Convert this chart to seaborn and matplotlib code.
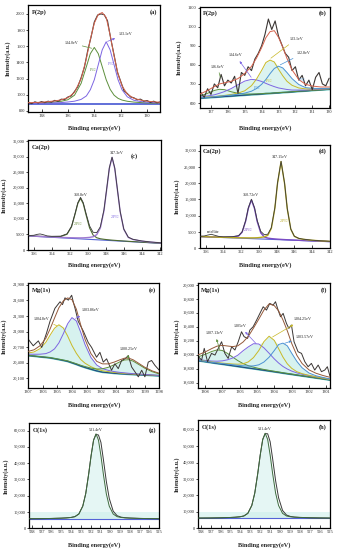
import matplotlib
matplotlib.use("Agg")          # headless
import matplotlib.pyplot as plt
from matplotlib.ticker import FuncFormatter
import numpy as np
import seaborn as sns

# ── (a) P(2p) ─────────────────────────────────────────────────────────────
A_X = [139, 138, 137, 136.5, 136, 135.5, 135, 134.6, 134.3, 134.0, 133.7, 133.4,
       133.1, 132.8, 132.5, 132.2, 131.9, 131.5, 131, 130.5, 130, 129]
A_BASE_X = [139, 129]
A_BASE_Y = [885, 885]
A_GREEN = [894, 898, 909, 919, 938, 994, 1140, 1347, 1508, 1585, 1508, 1347,
           1186, 1067, 994, 955, 934, 919, 909, 903, 898, 894]
A_PURPLE = [892, 894, 899, 903, 910, 920, 942, 985, 1062, 1185, 1370, 1555,
            1655, 1555, 1370, 1185, 1062, 974, 931, 916, 907, 897]
A_FIT = [901, 907, 923, 937, 963, 1029, 1197, 1447, 1685, 1885, 1993, 2017,
         1956, 1737, 1479, 1255, 1111, 1008, 955, 934, 920, 906]
A_RAW_X = [139.0, 138.75, 138.5, 138.25, 138.0, 137.75, 137.5, 137.25, 137.0,
           136.75, 136.5, 136.25, 136.0, 135.75, 135.5, 135.25, 135.0, 134.75,
           134.5, 134.25, 134.0, 133.75, 133.5, 133.25, 133.0, 132.75, 132.5,
           132.25, 132.0, 131.75, 131.5, 131.25, 131.0, 130.75, 130.5, 130.25,
           130.0, 129.75, 129.5, 129.25, 129.0]
A_RAW_Y = [905, 890, 912, 898, 915, 902, 920, 908, 930, 918, 945, 940, 972, 985,
           1040, 1100, 1210, 1340, 1545, 1710, 1900, 1985, 2000, 1990, 1915, 1690,
           1490, 1280, 1165, 1050, 1015, 972, 962, 938, 945, 920, 928, 905, 920,
           900, 912]
A_XTICKS = [138, 136, 134, 132, 130]
A_YTICKS = [800, 1000, 1200, 1400, 1600, 1800, 2000]

# ── (b) P(2p) ─────────────────────────────────────────────────────────────
B_X = [137.65, 137.2, 136.8, 136.5, 136.2, 135.8, 135.4, 135.0, 134.6, 134.3,
       134.0, 133.75, 133.5, 133.25, 133.0, 132.75, 132.5, 132.2, 131.8, 131.4,
       131.0, 130.5, 129.95]
B_BASE = [625, 628, 630, 632, 634, 636, 639, 641, 644, 645, 647, 649, 650, 652,
          653, 655, 656, 658, 661, 663, 666, 669, 672]
B_GREEN = [636, 651, 666, 672, 670, 659, 651, 647, 647, 648, 649, 651, 651, 653,
           654, 656, 657, 659, 662, 664, 666, 669, 672]
B_PURPLE = [631, 637, 643, 651, 660, 676, 696, 715, 724, 721, 713, 703, 694, 686,
            679, 675, 671, 668, 668, 668, 670, 672, 675]
B_YELLOW = [628, 632, 634, 637, 640, 645, 652, 664, 691, 726, 771, 812, 825, 815,
            777, 743, 714, 693, 679, 674, 674, 674, 676]
B_BLUE = [627, 630, 633, 636, 638, 642, 646, 652, 662, 676, 698, 723, 754, 781,
          793, 784, 760, 728, 697, 681, 677, 676, 677]
B_FIT = [647, 666, 686, 700, 706, 714, 728, 755, 792, 836, 890, 942, 974, 979,
         944, 893, 834, 774, 723, 698, 689, 684, 684]
B_RAW_X = [137.6, 137.4, 137.2, 137.0, 136.8, 136.6, 136.4, 136.2, 136.0, 135.8,
           135.6, 135.4, 135.2, 135.0, 134.8, 134.6, 134.4, 134.2, 134.0, 133.8,
           133.6, 133.4, 133.2, 133.0, 132.8, 132.6, 132.4, 132.2, 132.0, 131.8,
           131.6, 131.4, 131.2, 131.0, 130.8, 130.6, 130.4, 130.2, 130.0]
B_RAW_Y = [655, 630, 675, 645, 700, 680, 750, 690, 720, 705, 740, 650, 760, 745,
           790, 770, 830, 860, 900, 960, 1040, 985, 1030, 950, 905, 860, 840, 770,
           790, 720, 745, 690, 720, 670, 735, 760, 700, 690, 730]
B_XTICKS = [137, 136, 135, 134, 133, 132, 131, 130]
B_YTICKS = [600, 700, 800, 900, 1000, 1100]

# ── (c) Ca(2p) ────────────────────────────────────────────────────────────
C_X = [356.6, 356.0, 355.6, 355.3, 355.0, 354.5, 354.0, 353.0, 352.3, 351.8,
       351.4, 351.1, 350.8, 350.5, 350.2, 349.8, 349.4, 349.0, 348.6, 348.2,
       347.9, 347.6, 347.3, 347.0, 346.7, 346.4, 346.0, 345.5, 345.0, 344.0,
       343.0, 341.9]
C_BASE = [4500, 4403, 4339, 4291, 4243, 4162, 4082, 3922, 3809, 3729, 3665, 3617,
          3569, 3520, 3472, 3408, 3344, 3280, 3215, 3151, 3103, 3055, 3007, 2959,
          2910, 2862, 2798, 2718, 2638, 2478, 2317, 2140]
C_GREEN = [4559, 4475, 4424, 4389, 4353, 4305, 4271, 4312, 5044, 7434, 11595,
           14927, 16569, 14830, 11402, 7113, 4774, 3930, 3605, 3437, 3337, 3244,
           3163, 3096, 3027, 2966, 2883, 2790, 2697, 2524, 2351, 2166]
C_PURPLE = [4548, 4456, 4400, 4355, 4312, 4242, 4175, 4047, 3969, 3929, 3905,
            3897, 3889, 3906, 3952, 4048, 4250, 4930, 7075, 12581, 19363, 26245,
            29657, 26149, 19170, 12292, 6658, 4048, 3384, 2851, 2530, 2279]
C_FIT = [4639, 4724, 5024, 5153, 4961, 4525, 4396, 4447, 5204, 7634, 11835, 15207,
         16889, 15216, 11882, 7753, 5680, 5580, 7465, 12867, 19597, 26434, 29813,
         26286, 19287, 12396, 6743, 4120, 3443, 2897, 2564, 2305]
C_XTICKS = [356, 354, 352, 350, 348, 346, 344, 342]
C_YTICKS = [0, 5000, 10000, 15000, 20000, 25000, 30000, 35000]

# ── (d) Ca(2p) ────────────────────────────────────────────────────────────
D_X = [356.7, 356.2, 355.8, 355.4, 355.0, 354.5, 354.0, 353.0, 352.3, 351.9,
       351.5, 351.2, 350.85, 350.5, 350.2, 349.8, 349.4, 349.0, 348.6, 348.2,
       347.9, 347.5, 347.1, 346.8, 346.4, 346.0, 345.5, 345.0, 344.0, 343.0, 342.0]
D_BASE = [3591, 3538, 3496, 3454, 3412, 3360, 3308, 3203, 3129, 3088, 3046, 3014,
          2977, 2941, 2909, 2867, 2826, 2784, 2742, 2700, 2668, 2626, 2584, 2553,
          2511, 2469, 2417, 2364, 2260, 2155, 2050]
D_PURPLE = [3627, 3583, 3548, 3513, 3483, 3453, 3433, 3476, 3782, 4965, 8392,
            12280, 14857, 12207, 8255, 4744, 3479, 3140, 2980, 2878, 2814, 2738,
            2673, 2630, 2575, 2522, 2462, 2400, 2287, 2175, 2067]
D_OLIVE = [3622, 3572, 3534, 3495, 3458, 3413, 3370, 3289, 3242, 3220, 3207, 3201,
           3205, 3217, 3245, 3347, 3522, 3984, 6103, 12304, 19958, 26636, 19874,
           12157, 5872, 3669, 3017, 2772, 2471, 2282, 2136]
D_FIT = [3692, 3775, 4059, 4304, 4002, 3619, 3523, 3571, 3895, 5097, 8553, 12467,
         15085, 12483, 8591, 5224, 4175, 4340, 6341, 12482, 20104, 26748, 19963,
         12234, 5936, 3722, 3062, 2808, 2498, 2302, 2153]
D_XTICKS = [356, 354, 352, 350, 348, 346, 344, 342]
D_YTICKS = [0, 5000, 10000, 15000, 20000, 25000, 30000]

# ── (e) Mg(1s) ────────────────────────────────────────────────────────────
E_X = [1307, 1306.6, 1306.2, 1305.8, 1305.5, 1305.2, 1304.9, 1304.6, 1304.3,
       1304.0, 1303.7, 1303.4, 1303.1, 1302.7, 1302.3, 1301.9, 1301.5, 1301.1,
       1300.7, 1300.4, 1300.1, 1299.8, 1299.4, 1299.0, 1298.5, 1298.0]
E_BASE = [20539, 20528, 20515, 20504, 20495, 20479, 20463, 20446, 20428, 20399,
          20370, 20338, 20310, 20276, 20244, 20220, 20210, 20198, 20190, 20185,
          20180, 20175, 20170, 20165, 20157, 20150]
E_YELLOW = [20589, 20610, 20672, 20792, 20934, 21065, 21132, 21072, 20917, 20734,
            20584, 20465, 20392, 20326, 20278, 20247, 20231, 20215, 20203, 20197,
            20191, 20184, 20178, 20172, 20163, 20155]
E_PURPLE = [20567, 20565, 20566, 20577, 20609, 20668, 20783, 20956, 21150, 21270,
            21206, 20989, 20750, 20505, 20358, 20287, 20255, 20232, 20216, 20208,
            20199, 20192, 20184, 20176, 20167, 20158]
E_GREEN = [20543, 20532, 20520, 20509, 20501, 20485, 20470, 20454, 20438, 20410,
           20383, 20353, 20328, 20300, 20280, 20286, 20314, 20363, 20420, 20454,
           20460, 20433, 20366, 20297, 20230, 20186]
E_FIT = [20621, 20651, 20728, 20870, 21054, 21260, 21459, 21590, 21649, 21616,
         21433, 21131, 20850, 20579, 20428, 20380, 20380, 20414, 20459, 20489,
         20490, 20459, 20388, 20315, 20246, 20199]
E_RAW_X = [1307.0, 1306.66, 1306.31, 1306.08, 1305.74, 1305.51, 1305.17, 1304.82,
           1304.65, 1304.48, 1304.25, 1304.02, 1303.9, 1303.79, 1303.57, 1303.22,
           1302.88, 1302.65, 1302.31, 1302.08, 1301.85, 1301.62, 1301.28, 1301.05,
           1300.82, 1300.59, 1300.36, 1300.13, 1299.9, 1299.67, 1299.44, 1299.21,
           1298.99, 1298.76, 1298.53, 1298.3, 1298.0]
E_RAW_Y = [20853, 20728, 20822, 20696, 20979, 21198, 21449, 21575, 21520, 21650,
           21606, 21700, 21560, 21449, 21198, 21010, 20790, 20696, 20508, 20602,
           20414, 20477, 20257, 20382, 20288, 20445, 20477, 20539, 20320, 20226,
           20131, 20257, 20131, 20414, 20445, 20351, 20257]
E_XTICKS = [1307, 1306, 1305, 1304, 1303, 1302, 1301, 1300, 1299, 1298]
E_YTICKS = [20100, 20400, 20700, 21000, 21300, 21600, 21900]

# ── (f) Mg(1s) ────────────────────────────────────────────────────────────
F_X = [1308.4, 1308.0, 1307.6, 1307.3, 1307.0, 1306.7, 1306.4, 1306.1, 1305.8,
       1305.5, 1305.2, 1304.9, 1304.6, 1304.3, 1304.0, 1303.75, 1303.5, 1303.25,
       1303.0, 1302.7, 1302.4, 1302.0, 1301.6, 1301.2, 1300.77]
F_BASE = [18916, 18901, 18886, 18875, 18865, 18854, 18843, 18832, 18821, 18810,
          18800, 18789, 18778, 18767, 18756, 18747, 18737, 18728, 18719, 18708,
          18697, 18683, 18668, 18654, 18638]
F_GREEN = [18970, 19005, 19048, 19070, 19062, 19020, 18967, 18916, 18874, 18844,
           18823, 18805, 18790, 18777, 18764, 18754, 18743, 18733, 18724, 18712,
           18701, 18686, 18671, 18656, 18640]
F_PURPLE = [18932, 18920, 18910, 18908, 18913, 18928, 18954, 18995, 19058, 19113,
            19159, 19155, 19100, 19022, 18941, 18882, 18833, 18796, 18767, 18741,
            18721, 18702, 18684, 18667, 18649]
F_YELLOW = [18923, 18910, 18897, 18888, 18881, 18874, 18868, 18865, 18871, 18898,
            18960, 19059, 19188, 19266, 19206, 19087, 18967, 18871, 18807, 18758,
            18730, 18706, 18685, 18667, 18648]
F_BLUE = [18921, 18907, 18893, 18883, 18874, 18866, 18857, 18849, 18843, 18838,
          18841, 18856, 18896, 18965, 19061, 19147, 19167, 19128, 19024, 18906,
          18815, 18739, 18700, 18676, 18653]
F_FIT = [18998, 19039, 19090, 19124, 19135, 19126, 19117, 19129, 19183, 19263,
         19383, 19508, 19640, 19729, 19704, 19629, 19499, 19344, 19165, 18993,
         18876, 18784, 18736, 18704, 18676]
F_RAW_X = [1308.38, 1308.19, 1308.04, 1307.85, 1307.62, 1307.42, 1307.23, 1307.04,
           1306.85, 1306.66, 1306.46, 1306.27, 1306.08, 1305.89, 1305.74, 1305.54,
           1305.41, 1305.22, 1305.02, 1304.83, 1304.64, 1304.45, 1304.26, 1304.07,
           1303.93, 1303.78, 1303.64, 1303.49, 1303.30, 1303.16, 1303.01, 1302.86,
           1302.63, 1302.43, 1302.24, 1302.05, 1301.86, 1301.67, 1301.47, 1301.28,
           1301.09, 1300.94, 1300.78]
F_RAW_Y = [18972, 18925, 19092, 18901, 19020, 18996, 19092, 19187, 19020, 18948,
           19115, 19068, 19187, 19330, 19259, 19235, 19354, 19402, 19497, 19593,
           19688, 19640, 19736, 19712, 19760, 19640, 19545, 19593, 19450, 19378,
           19426, 19187, 19044, 19020, 18901, 18829, 18877, 18781, 18853, 18758,
           18781, 18829, 18686]
F_XTICKS = [1308, 1307, 1306, 1305, 1304, 1303, 1302, 1301]
F_YTICKS = [18600, 18800, 19000, 19200, 19400, 19600, 19800, 20000]

# ── (g) O(1s) ─────────────────────────────────────────────────────────────
G_X = [538.25, 537, 536, 535, 534.5, 534, 533.6, 533.2, 532.8, 532.5, 532.2,
       531.95, 531.7, 531.45, 531.2, 530.95, 530.7, 530.4, 530.1, 529.7, 529.3,
       528.9, 528.5, 528, 527, 526, 525]
G_BASE_X = [538.25, 525]
G_BASE_Y = [5740, 5740]
G_FIT = [5876, 5939, 6043, 6221, 6378, 6655, 7151, 8771, 13579, 21209, 33229,
         44621, 54185, 58000, 54185, 44621, 33229, 21209, 13579, 8771, 7151, 6655,
         6419, 6252, 6054, 5949, 5886]
G_RAW = [5880, 5930, 6050, 6230, 6390, 6670, 7180, 8800, 13650, 21300, 33300,
         44700, 54100, 57700, 57300, 52770, 42320, 28840, 18340, 10550, 7730, 6860,
         6500, 6315, 6080, 5960, 5890]
G_XTICKS = [538, 537, 536, 535, 534, 533, 532, 531, 530, 529, 528, 527, 526, 525]
G_YTICKS = [0, 10000, 20000, 30000, 40000, 50000, 60000]

# ── (h) O(1s) ─────────────────────────────────────────────────────────────
H_X = [538.27, 537.05, 536.05, 535.05, 534.55, 534.05, 533.65, 533.25, 532.85,
       532.55, 532.25, 532.0, 531.75, 531.5, 531.25, 531.0, 530.75, 530.45, 530.15,
       529.75, 529.35, 528.95, 528.55, 528.05, 527.05, 526.05, 525.0]
H_BASE_X = [538.27, 525]
H_BASE_Y = [6100, 6100]
H_FIT = [6235, 6297, 6401, 6577, 6732, 7007, 7499, 9106, 13875, 21442, 33363,
         44662, 54146, 57930, 54146, 44662, 33363, 21442, 13875, 9106, 7499, 7007,
         6774, 6608, 6411, 6307, 6245]
H_RAW = [6240, 6290, 6410, 6590, 6740, 7020, 7520, 9130, 13950, 21500, 33400,
         44700, 54050, 57700, 57600, 52750, 42380, 29010, 18590, 10870, 8070, 7210,
         6850, 6670, 6440, 6320, 6250]
H_XTICKS = G_XTICKS
H_YTICKS = G_YTICKS

# ── Style ─────────────────────────────────────────────────────────────────
sns.set_theme(style="ticks")
plt.rcParams["font.family"] = ["Liberation Serif", "DejaVu Serif"]
plt.rcParams["mathtext.fontset"] = "stix"

RAW = "#3b3634"
FIT_RED = "#d5624c"
FIT_BROWN = "#94593a"
GREEN = "#5d8f3c"
PURPLE = "#7d66e2"
YELLOW = "#c8b927"
BLUE = "#4c92d4"
NAVY = "#25407c"
TEAL = "#4cb9b3"
BASE_BLUE = "#5463d6"
FILL = "#cdefeb"

fig = plt.figure(figsize=(3.37, 5.5), dpi=100)


def panel(l, t, r, b):
    # pixel box of the frame -> figure fraction
    return fig.add_axes([l / 337, 1 - b / 550, (r - l) / 337, (b - t) / 550])


def thousands(v, _):
    return f"{v:,.0f}" if v >= 10000 else f"{v:.0f}"


def dress(ax, xlim, ylim, xticks, yticks, title, tag, xl, yl, tag_xy=(0.975, 0.965)):
    ax.set_xlim(*xlim)
    ax.set_ylim(*ylim)
    ax.set_xticks(xticks)
    ax.set_yticks(yticks)
    ax.yaxis.set_major_formatter(FuncFormatter(thousands))
    ax.tick_params(axis="x", direction="in", length=2, width=0.6, labelsize=3.2, pad=1.5)
    ax.tick_params(axis="y", direction="out", length=1.5, width=0.6, labelsize=3.2, pad=1)
    for s in ax.spines.values():
        s.set_linewidth(0.9)
        s.set_color("black")
    ax.set_xlabel("Binding energy(eV)", fontsize=4.5, fontweight="bold")
    ax.set_ylabel("Intensity(a.u.)", fontsize=4.2, fontweight="bold")
    ax.xaxis.set_label_coords(0.5, xl)
    ax.yaxis.set_label_coords(yl, 0.5)
    ax.text(0.025, 0.965, title, transform=ax.transAxes, ha="left", va="top",
            fontsize=4.6, fontweight="bold")
    ax.text(tag_xy[0], tag_xy[1], tag, transform=ax.transAxes, ha="right", va="top",
            fontsize=4.6, fontweight="bold")


def line(ax, x, y, color, lw=0.7, z=2):
    sns.lineplot(x=x, y=y, ax=ax, color=color, lw=lw, sort=False,
                 estimator=None, zorder=z)


def note(ax, text, xy, xytext, color, head=True):
    ax.annotate(text, xy=xy, xytext=xytext, fontsize=3, ha="center", va="center",
                color="#222222",
                arrowprops=dict(arrowstyle="<|-" if head else "-", color=color,
                                lw=0.5, mutation_scale=3, shrinkA=0.5, shrinkB=0))


def tiny(ax, text, xy, color):
    ax.text(xy[0], xy[1], text, fontsize=3, color=color, ha="center", va="center")


# ── (a) ──
ax = panel(28.3, 5, 160.3, 111.7)
line(ax, A_BASE_X, A_BASE_Y, BASE_BLUE, lw=1.3)
line(ax, A_X, A_GREEN, GREEN)
line(ax, A_X, A_PURPLE, PURPLE)
line(ax, A_RAW_X, A_RAW_Y, RAW, lw=0.8)
line(ax, A_X, A_FIT, FIT_RED, lw=0.7, z=3)
dress(ax, (139, 129), (790, 2110), A_XTICKS, A_YTICKS, "P(2p)", "(a)", -0.125, -0.131)
note(ax, "134.0eV", (134.2, 1575), (135.73, 1637), GREEN, head=False)
note(ax, "133.1eV", (133.0, 1660), (131.6, 1750), PURPLE)
tiny(ax, "P$_{1/2}$", (134.07, 1300), GREEN)
tiny(ax, "P$_{3/2}$", (132.75, 1375), PURPLE)

# ── (b) ──
ax = panel(200, 7, 330, 108)
b_top = np.max([B_GREEN, B_PURPLE, B_YELLOW, B_BLUE], axis=0)
ax.fill_between(B_X, B_BASE, b_top, color=FILL, alpha=0.7, lw=0, zorder=1)
line(ax, B_X, B_BASE, TEAL, lw=1.4)
line(ax, B_X, B_BASE, NAVY, lw=0.7)
line(ax, B_X, B_GREEN, GREEN)
line(ax, B_X, B_PURPLE, PURPLE)
line(ax, B_X, B_YELLOW, YELLOW)
line(ax, B_X, B_BLUE, BLUE)
line(ax, B_RAW_X, B_RAW_Y, RAW, lw=0.8)
line(ax, B_X, B_FIT, FIT_RED, lw=0.7, z=3)
dress(ax, (137.65, 129.95), (574, 1103), B_XTICKS, B_YTICKS, "P(2p)", "(b)", -0.168, -0.138)
note(ax, "136.6eV", (136.45, 735), (136.6, 790), GREEN, head=False)
note(ax, "134.6eV", (134.62, 735), (135.55, 850), PURPLE)
note(ax, "133.1eV", (133.45, 835), (131.95, 935), YELLOW, head=False)
note(ax, "132.8eV", (132.9, 800), (131.5, 862), BLUE, head=False)
tiny(ax, "P$_{1/2}$", (133.55, 712), YELLOW)
tiny(ax, "P$_{3/2}$", (131.6, 722), BLUE)
tiny(ax, "P$_{3/2}$", (134.3, 676), BLUE)

# ── (c) ──
ax = panel(28.3, 140, 160.7, 250)
line(ax, C_X, C_BASE, BASE_BLUE, lw=0.8)
line(ax, C_X, C_GREEN, "#4e6b2e", lw=0.8)
line(ax, C_X, C_PURPLE, "#a07ad0", lw=1.0)
line(ax, C_X, C_FIT, "#3a3a3a", lw=0.6, z=3)
dress(ax, (356.6, 341.9), (0, 35300), C_XTICKS, C_YTICKS, "Ca(2p)", "(c)", -0.109, -0.163,
      tag_xy=(0.83, 0.88))
tiny(ax, "350.8eV", (350.73, 17800), "#222222")
tiny(ax, "347.3eV", (346.75, 31150), "#222222")
tiny(ax, "2P$_{1/2}$", (351.06, 8350), "#6b8f3c")
tiny(ax, "2P$_{3/2}$", (347.0, 10600), "#7d66e2")

# ── (d) ──
ax = panel(199.7, 145, 329.7, 248.3)
line(ax, D_X, D_BASE, BASE_BLUE, lw=0.8)
line(ax, D_X, D_PURPLE, "#7a4cc4", lw=1.0)
line(ax, D_X, D_OLIVE, "#b9ab22", lw=1.0)
line(ax, D_X, D_FIT, "#3a3a3a", lw=0.6, z=3)
dress(ax, (356.7, 342.0), (0, 31750), D_XTICKS, D_YTICKS, "Ca(2p)", "(d)", -0.133, -0.154)
tiny(ax, "350.72eV", (350.94, 16300), "#222222")
tiny(ax, "347.15eV", (347.68, 28100), "#222222")
tiny(ax, "2P$_{1/2}$", (351.24, 5620), "#7a4cc4")
tiny(ax, "2P$_{3/2}$", (347.2, 8390), "#b9ab22")
tiny(ax, "satellite", (355.18, 5010), "#222222")

# ── (e) ──
ax = panel(28.3, 283.3, 159.3, 388.3)
e_top = np.max([E_YELLOW, E_PURPLE, E_GREEN], axis=0)
ax.fill_between(E_X, E_BASE, e_top, color=FILL, alpha=0.8, lw=0, zorder=1)
line(ax, E_X, E_BASE, TEAL, lw=1.4)
line(ax, E_X, E_BASE, NAVY, lw=0.7)
line(ax, E_X, E_YELLOW, YELLOW)
line(ax, E_X, E_PURPLE, PURPLE)
line(ax, E_X, E_GREEN, GREEN)
line(ax, E_RAW_X, E_RAW_Y, RAW, lw=0.7)
line(ax, E_X, E_FIT, FIT_BROWN, lw=0.7, z=3)
dress(ax, (1307, 1298), (19910, 21930), E_XTICKS, E_YTICKS, "Mg(1s)", "(e)", -0.13, -0.165)
note(ax, "1304.8eV", (1305.05, 21115), (1306.06, 21238), YELLOW, head=False)
note(ax, "1303.86eV", (1303.75, 21255), (1302.7, 21408), PURPLE)
note(ax, "1300.25eV", (1300.15, 20475), (1300.1, 20670), GREEN)

# ── (f) ──
ax = panel(198, 283.3, 330.3, 388.3)
f_top = np.max([F_GREEN, F_PURPLE, F_YELLOW, F_BLUE], axis=0)
ax.fill_between(F_X, F_BASE, f_top, color=FILL, alpha=0.8, lw=0, zorder=1)
line(ax, F_X, F_BASE, TEAL, lw=1.4)
line(ax, F_X, F_BASE, NAVY, lw=0.7)
line(ax, F_X, F_GREEN, GREEN)
line(ax, F_X, F_PURPLE, PURPLE)
line(ax, F_X, F_YELLOW, YELLOW)
line(ax, F_X, F_BLUE, BLUE)
line(ax, F_RAW_X, F_RAW_Y, RAW, lw=0.7)
line(ax, F_X, F_FIT, FIT_BROWN, lw=0.7, z=3)
dress(ax, (1308.4, 1300.77), (18520, 20024), F_XTICKS, F_YTICKS, "Mg(1s)", "(f)", -0.13, -0.138)
note(ax, "1307.13eV", (1307.15, 19075), (1307.43, 19311), GREEN)
note(ax, "1305eV", (1305.05, 19160), (1305.99, 19411), PURPLE)
note(ax, "1304.25eV", (1304.1, 19255), (1302.35, 19512), YELLOW)
note(ax, "1303.57eV", (1303.4, 19165), (1302.25, 19259), BLUE)

# ── (g) ──
ax = panel(29.3, 423.3, 159.3, 528.3)
ax.axhspan(G_BASE_Y[0], 10000, color=FILL, alpha=0.6, lw=0, zorder=0)
ax.fill_between(G_X, G_BASE_Y[0], G_FIT, color=FILL, alpha=0.5, lw=0, zorder=1)
line(ax, G_BASE_X, G_BASE_Y, BASE_BLUE, lw=0.8)
line(ax, G_X, G_RAW, "#3a3a3a", lw=0.7)
line(ax, G_X, G_FIT, "#3f6b3f", lw=0.7, z=3)
dress(ax, (538.25, 525), (0, 64500), G_XTICKS, G_YTICKS, "O(1s)", "(g)", -0.128, -0.16)
tiny(ax, "531.4eV", (531.46, 60300), "#222222")

# ── (h) ──
ax = panel(198, 420, 329.7, 528.3)
ax.axhspan(H_BASE_Y[0], 10000, color=FILL, alpha=0.6, lw=0, zorder=0)
ax.fill_between(H_X, H_BASE_Y[0], H_FIT, color=FILL, alpha=0.5, lw=0, zorder=1)
line(ax, H_BASE_X, H_BASE_Y, BASE_BLUE, lw=0.8)
line(ax, H_X, H_RAW, "#3a3a3a", lw=0.7)
line(ax, H_X, H_FIT, "#3f6b3f", lw=0.7, z=3)
dress(ax, (538.27, 525), (0, 66000), H_XTICKS, H_YTICKS, "O(1s)", "(h)", -0.124, -0.14)
tiny(ax, "531.4eV", (531.55, 60800), "#222222")

fig.savefig("out.png", dpi=100, facecolor="white")
plt.close(fig)
